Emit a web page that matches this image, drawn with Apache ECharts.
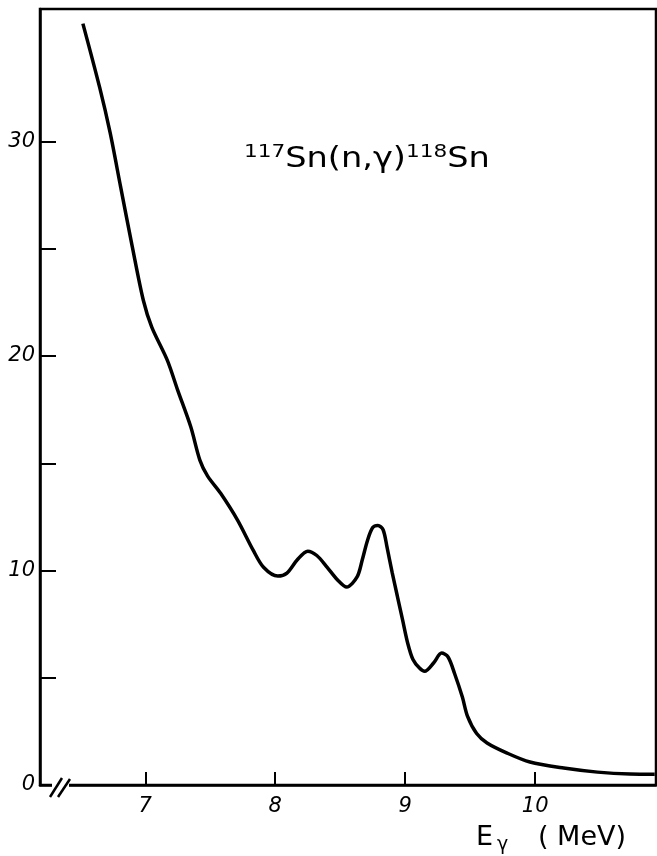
<!DOCTYPE html>
<html>
<head>
<meta charset="utf-8">
<script src="https://cdn.jsdelivr.net/npm/echarts@6/dist/echarts.min.js"></script>
<style>
html,body{margin:0;padding:0;background:#fff;}
#chart{width:657px;height:856px;}
</style>
</head>
<body>
<div id="chart"></div>
<script>
// Photon energy (MeV)
const energy = [6.52, 6.65, 6.73, 6.81, 6.90, 6.985, 7.05, 7.17, 7.25, 7.35, 7.42, 7.48, 7.58, 7.71, 7.83, 7.91, 8.02, 8.09, 8.17, 8.25, 8.32, 8.40, 8.48, 8.55, 8.63, 8.67, 8.71, 8.75, 8.79, 8.83, 8.86, 8.90, 8.94, 8.98, 9.02, 9.06, 9.11, 9.15, 9.22, 9.28, 9.33, 9.38, 9.44, 9.48, 9.55, 9.63, 9.78, 9.96, 10.22, 10.48, 10.73, 10.92];
// Intensity values
const intensity = [35.5, 32.5, 30.4, 27.9, 25.1, 22.6, 21.35, 19.8, 18.4, 16.7, 15.15, 14.4, 13.6, 12.35, 10.95, 10.15, 9.74, 9.88, 10.5, 10.9, 10.7, 10.15, 9.56, 9.23, 9.7, 10.5, 11.4, 12.0, 12.1, 11.9, 11.1, 9.9, 8.8, 7.7, 6.6, 5.85, 5.45, 5.3, 5.7, 6.15, 5.97, 5.2, 4.1, 3.2, 2.4, 1.96, 1.5, 1.07, 0.79, 0.6, 0.51, 0.5];
const xTicks = [7, 8, 9, 10];
const yTicks = [0, 5, 10, 15, 20, 25, 30];
const yLabels = [0, 10, 20, 30];

const chart = echarts.init(document.getElementById('chart'), null, {renderer: 'canvas'});
const labelFont = {fontFamily: 'DejaVu Sans', fontStyle: 'italic', fontSize: 21, color: '#000'};

chart.setOption({
  animation: false,
  backgroundColor: '#fff',
  grid: {left: 40, right: 1, top: 9, bottom: 71, show: true, borderColor: '#000', borderWidth: 2.5, backgroundColor: 'transparent'},
  xAxis: {
    type: 'value', min: 6.19, max: 10.93,
    axisLine: {show: true, onZero: false, lineStyle: {color: '#000', width: 2.5}},
    axisTick: {show: true, inside: true, length: 13, customValues: xTicks, lineStyle: {color: '#000', width: 2}},
    axisLabel: Object.assign({customValues: xTicks, margin: 11}, labelFont),
    splitLine: {show: false}
  },
  yAxis: {
    type: 'value', min: 0, max: 36.18,
    axisLine: {show: true, lineStyle: {color: '#000', width: 2.5}},
    axisTick: {show: true, inside: true, length: 16, customValues: yTicks, lineStyle: {color: '#000', width: 2}},
    axisLabel: Object.assign({customValues: yLabels, margin: 5}, labelFont),
    splitLine: {show: false}
  },
  series: [{
    type: 'line',
    data: energy.map((e, i) => [e, intensity[i]]),
    smooth: 0.3,
    showSymbol: false,
    lineStyle: {color: '#000', width: 3.5},
    clip: true
  }],
  graphic: [
    {type: 'rect', shape: {x: 52, y: 781, width: 17, height: 8}, style: {fill: '#fff'}, z: 100},
    {type: 'line', shape: {x1: 50, y1: 797, x2: 62, y2: 778}, style: {stroke: '#000', lineWidth: 2.5}, z: 101},
    {type: 'line', shape: {x1: 58, y1: 797, x2: 70, y2: 779}, style: {stroke: '#000', lineWidth: 2.5}, z: 101},
    {
      type: 'text', x: 244, y: 143, scaleX: 1.2, z: 101,
      style: {
        text: '{sup|117}{main|Sn(n,γ)}{sup|118}{main|Sn}',
        rich: {
          sup: {fontFamily: 'DejaVu Sans', fontSize: 18, verticalAlign: 'top', lineHeight: 31, fill: '#000', padding: [0, 0, 12, 0]},
          main: {fontFamily: 'DejaVu Sans', fontSize: 28, verticalAlign: 'bottom', lineHeight: 31, fill: '#000'}
        }
      }
    },
    {type: 'text', left: 476, top: 824, z: 101, style: {text: 'E', fontFamily: 'DejaVu Sans', fontSize: 27, fill: '#000'}},
    {type: 'text', left: 497, top: 836, z: 101, style: {text: 'γ', fontFamily: 'DejaVu Sans', fontSize: 19, fill: '#000'}},
    {type: 'text', left: 538, top: 824, z: 101, style: {text: '( MeV)', fontFamily: 'DejaVu Sans', fontSize: 27, fill: '#000'}}
  ]
});
</script>
</body>
</html>
